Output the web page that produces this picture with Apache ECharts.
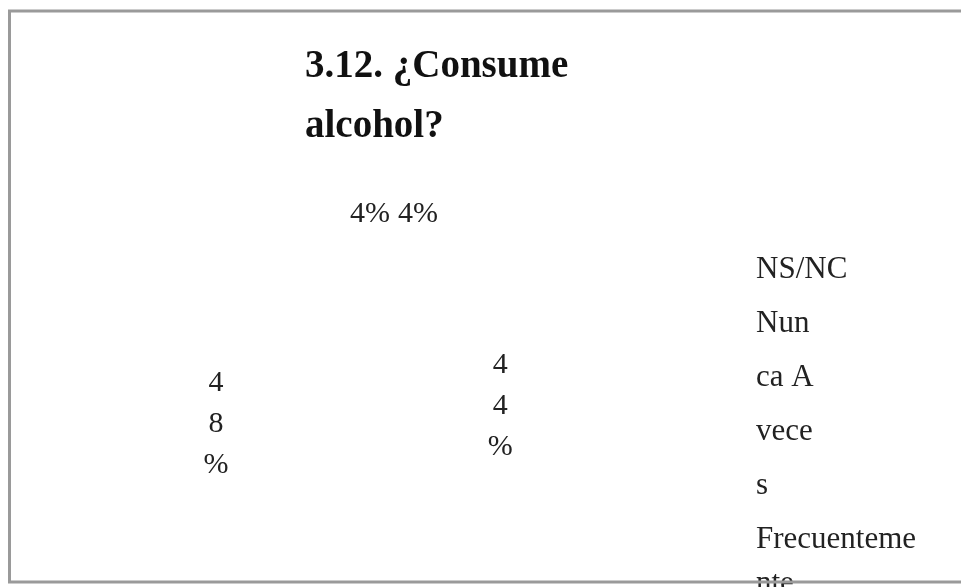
<!DOCTYPE html>
<html>
<head>
<meta charset="utf-8">
<script src="https://cdn.jsdelivr.net/npm/echarts@6/dist/echarts.min.js"></script>
<style>
  html, body { margin: 0; padding: 0; background: #fff; }
  #chart { width: 961px; height: 587px; }
</style>
</head>
<body>
<div id="chart"></div>
<script>
  // categorias y porcentajes
  const categories = ['NS/NC', 'Nunca', 'A veces', 'Frecuentemente']
  const values = [4, 44, 48, 4]
  // texto de la leyenda tal como sale cortado en el original
  const legendLines = ['NS/NC', 'Nun\nca A', 'vece\ns', 'Frecuenteme\n{last|nte}']
  const titleText = '3.12. ¿Consume\nalcohol?'

  const serif = '"Liberation Serif", "DejaVu Serif", serif'

  const chart = echarts.init(document.getElementById('chart'))

  chart.setOption({
    backgroundColor: '#fff',
    animation: false,
    title: {
      text: titleText,
      left: 305,
      top: 37,
      padding: 0,
      textStyle: {
        fontFamily: serif,
        fontWeight: 'bold',
        fontSize: 39,
        lineHeight: 60,
        color: '#111'
      }
    },
    legend: {
      orient: 'vertical',
      left: 751,
      top: 243,
      height: 500,
      icon: 'none',
      itemWidth: 0,
      itemGap: 0,
      padding: 0,
      selectedMode: false,
      data: categories,
      formatter: name => legendLines[categories.indexOf(name)],
      textStyle: {
        fontFamily: serif,
        fontSize: 31,
        lineHeight: 54,
        color: '#222',
        rich: {
          last: { fontFamily: serif, fontSize: 31, lineHeight: 34, color: '#222' }
        }
      }
    },
    series: [{
      type: 'pie',
      center: [357, 397],
      radius: 281,
      startAngle: 90,
      clockwise: true,
      silent: true,
      itemStyle: {
        color: 'rgba(0,0,0,0)',
        borderWidth: 0
      },
      label: {
        show: true,
        position: 'inside',
        fontFamily: serif,
        fontSize: 30,
        lineHeight: 41,
        padding: [0, 4],
        color: '#222',
        // las etiquetas grandes salen partidas caracter a caracter
        formatter: p => {
          const s = p.value + '%'
          return p.value > 10 ? s.split('').join('\n') : s
        }
      },
      // las porciones pequeñas llevan la etiqueta un poco mas arriba, una al lado de otra
      labelLayout: p => values[p.dataIndex] < 10
        ? { dx: 31, dy: -41, moveOverlap: 'shiftX', hideOverlap: false }
        : { hideOverlap: false },
      labelLine: { show: false },
      data: categories.map((name, i) => ({ name: name, value: values[i] }))
    }],
    graphic: [{
      type: 'rect',
      z: 100,
      shape: { x: 9.5, y: 11, width: 1000, height: 571 },
      style: { fill: null, stroke: '#9a9a9a', lineWidth: 3 }
    }]
  })
</script>
</body>
</html>
